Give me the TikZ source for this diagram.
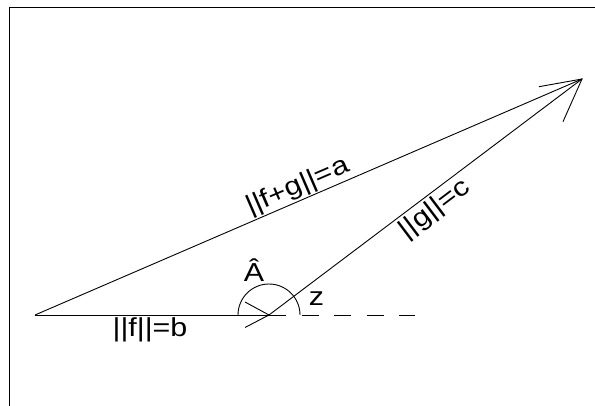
\documentclass[tikz,border=0pt]{standalone}
\usepackage{fontspec}
\setmainfont{Liberation Sans}
\newcommand{\wide}[1]{\scalebox{1.17}[1]{#1}}
\begin{document}
\begin{tikzpicture}[x=1pt,y=-1pt,line width=0.9pt,
  lbl/.style={font=\fontsize{26}{28}\selectfont,inner sep=0pt},
  frameline/.style={line width=1pt}]
\useasboundingbox (0,0) rectangle (595,406);
% frame (top and left edges)
\coordinate (fl) at (9,406);
\coordinate (ft) at (9,8);
\coordinate (fr) at (595,8);
\draw[frameline] (fl) -- (ft) -- (fr);
% points
\coordinate (A) at (35,315);
\coordinate (B) at (269,315);
\coordinate (C) at (582,79);
\coordinate (D) at (415,315);
% vectors
\draw (A) -- (B);
\draw[dash pattern=on 17pt off 15.5pt] (B) -- (D);
\draw (A) -- node[lbl,sloped,above,pos=0.49,inner sep=1pt] (la) {\wide{||f+g||=a}} (C);
\draw (B) -- node[lbl,sloped,below,pos=0.5,inner sep=3pt] (lc) {\wide{||g||=c}} (C);
% arrowhead of f at B
\coordinate (fb1) at (245,302);
\coordinate (fb2) at (245,327.5);
\draw (fb1) -- (B) -- (fb2);
% arrowhead of g at C
\coordinate (gb1) at (539,86.7);
\coordinate (gb2) at (563,121.7);
\draw (gb1) -- (C) -- (gb2);
% angle arc
\draw ([xshift=-31pt]B) arc[start angle=180,end angle=0,radius=31pt];
% labels
\node[lbl] (lb) at (150,330) {\wide{||f||=b}};
\node[lbl] (lA) at (254,270) {\wide{Â}};
\node[lbl] (lz) at (316.5,299) {\wide{z}};
\end{tikzpicture}
\end{document}
